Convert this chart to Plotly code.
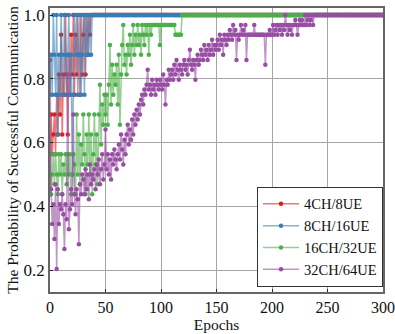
import plotly.graph_objects as go

epochs = list(range(0, 301))

red_vals = [
    0.438, 0.688, 0.563, 0.625, 0.688, 0.563, 0.75, 0.625, 0.813, 0.688,
    0.938, 0.625, 0.813, 0.75, 1.0, 0.813, 0.625, 0.875, 0.75, 0.938,
    0.813, 1.0, 0.75, 0.938, 0.813, 1.0, 0.875, 0.75, 1.0, 0.813,
    0.938, 1.0, 0.813, 1.0, 0.875, 1.0, 0.938, 1.0, 1.0,
] + [1.0] * 262

blue_vals = [
    0.75, 0.875, 0.75, 1.0, 0.875, 0.75, 1.0, 0.625, 0.875, 0.75,
    1.0, 0.875, 0.75, 1.0, 0.875, 0.75, 0.875, 1.0, 0.75, 0.875,
    0.5, 0.75, 1.0, 0.875, 1.0, 0.75, 0.875, 1.0, 0.75, 0.875,
    1.0, 0.75, 1.0, 0.875, 1.0, 0.875, 1.0, 0.875, 1.0,
] + [1.0] * 262

green_vals = [
    0.563, 0.438, 0.5, 0.563, 0.469, 0.563, 0.5, 0.438, 0.563, 0.5,
    0.563, 0.438, 0.531, 0.5, 0.563, 0.469, 0.563, 0.5, 0.563, 0.438,
    0.5, 0.563, 0.531, 0.438, 0.688, 0.5, 0.625, 0.469, 0.594, 0.531,
    0.688, 0.563, 0.438, 0.625, 0.531, 0.688, 0.5, 0.625, 0.438, 0.563,
    0.688, 0.531, 0.625, 0.469, 0.688, 0.781, 0.594, 0.719, 0.656, 0.75,
    0.688, 0.75, 0.656, 0.781, 0.906, 0.719, 0.844, 0.75, 0.813, 0.781,
    0.844, 0.719, 0.875, 0.656, 0.813, 0.906, 0.969, 0.844, 0.875, 0.813,
    0.906, 0.875, 0.938, 0.844, 0.906, 0.969, 0.875, 0.938, 0.906, 0.969,
    0.906, 0.938, 0.875, 0.969, 0.938, 0.906, 0.969, 0.938, 0.969, 0.875,
    0.969, 0.938, 0.969, 0.969, 0.969, 0.969, 0.969, 0.969, 0.969, 0.906,
    0.969, 0.969, 0.969, 0.969, 0.969, 0.969, 0.969, 0.969, 0.969, 0.969,
    0.969, 0.969, 0.969, 0.938, 0.938, 0.938, 0.938, 0.938, 0.938, 1.0,
] + [1.0] * 181

purple_vals = [
    0.859, 0.453, 0.344, 0.406, 0.297, 0.469, 0.203, 0.453, 0.344, 0.406,
    0.391, 0.438, 0.375, 0.266, 0.406, 0.359, 0.813, 0.328, 0.391, 0.453,
    0.406, 0.688, 0.438, 0.375, 0.453, 0.422, 0.281, 0.469, 0.438, 0.500,
    0.484, 0.438, 0.516, 0.453, 0.500, 0.422, 0.531, 0.469, 0.500, 0.484,
    0.516, 0.453, 0.531, 0.500, 0.547, 0.469, 0.516, 0.563, 0.484, 0.531,
    0.641, 0.516, 0.563, 0.500, 0.547, 0.484, 0.563, 0.531, 0.578, 0.547,
    0.516, 0.563, 0.594, 0.547, 0.625, 0.578, 0.531, 0.609, 0.563, 0.625,
    0.656, 0.594, 0.641, 0.609, 0.672, 0.625, 0.688, 0.656, 0.703, 0.672,
    0.719, 0.688, 0.734, 0.750, 0.719, 0.766, 0.750, 0.781, 0.828, 0.766,
    0.781, 0.750, 0.797, 0.766, 0.781, 0.750, 0.797, 0.781, 0.766, 0.797,
    0.781, 0.766, 0.813, 0.781, 0.719, 0.797, 0.781, 0.828, 0.797, 0.813,
    0.828, 0.797, 0.844, 0.813, 0.859, 0.828, 0.797, 0.844, 0.828, 0.813,
    0.844, 0.859, 0.828, 0.844, 0.813, 0.859, 0.891, 0.844, 0.828, 0.859,
    0.844, 0.797, 0.859, 0.875, 0.844, 0.859, 0.891, 0.875, 0.859, 0.906,
    0.875, 0.891, 0.859, 0.906, 0.875, 0.891, 0.922, 0.875, 0.906, 0.891,
    0.906, 0.922, 0.891, 0.938, 0.906, 0.922, 0.875, 0.938, 0.922, 0.906,
    0.938, 0.922, 0.953, 0.938, 0.922, 0.969, 0.938, 0.953, 0.859, 0.938,
    0.922, 0.938, 0.969, 0.938, 0.953, 0.938, 0.969, 0.859, 0.938, 0.938,
    0.938, 0.938, 0.938, 0.938, 0.969, 0.938, 0.938, 0.938, 0.938, 0.938,
    0.938, 0.938, 0.938, 0.938, 0.844, 0.938, 0.938, 0.938, 0.953, 0.938,
    0.938, 0.969, 0.938, 0.953, 0.969, 0.938, 0.969, 0.953, 0.969, 0.938,
    0.969, 0.953, 1.0, 0.969, 0.938, 0.969, 0.953, 0.969, 0.938, 0.969,
    0.969, 0.984, 0.969, 0.938, 0.969, 0.984, 0.969, 0.984, 0.969, 0.969,
    1.0, 0.969, 0.984, 1.0, 0.969, 0.984, 1.0, 0.969, 1.0, 1.0,
] + [1.0] * 61

series_names = ["4CH/8UE", "8CH/16UE", "16CH/32UE", "32CH/64UE"]
series_vals = [red_vals, blue_vals, green_vals, purple_vals]
x_ticks = [0, 50, 100, 150, 200, 250, 300]
y_ticks = [0.2, 0.4, 0.6, 0.8, 1.0]

colors = [(228, 26, 28), (55, 126, 184), (77, 175, 74), (152, 78, 163)]

FONT = "Liberation Serif, Times New Roman, serif"

fig = go.Figure()
for name, vals, (r, g, b) in zip(series_names, series_vals, colors):
    fig.add_trace(go.Scatter(
        x=epochs[:len(vals)], y=vals, name=name, mode="lines+markers",
        line=dict(color=f"rgba({r},{g},{b},0.6)", width=1.5),
        marker=dict(color=f"rgb({r},{g},{b})", size=4.5),
    ))

axis_common = dict(
    showgrid=True, gridcolor="#a6a6a6", gridwidth=1.2,
    showline=True, linecolor="#666666", linewidth=1.5, mirror=True,
    ticks="inside", ticklen=3, tickcolor="#222", zeroline=False,
    automargin=False, ticklabeloverflow="allow",
)

fig.update_layout(
    width=395, height=334,
    margin=dict(l=50, r=12, t=8, b=42),
    paper_bgcolor="white", plot_bgcolor="white",
    font=dict(family=FONT, color="#111"),
    xaxis=dict(range=[0, 300], tickvals=x_ticks,
               tickfont=dict(family=FONT, size=16, color="#111"),
               title=dict(text="Epochs", font=dict(family=FONT, size=15.5), standoff=3),
               **axis_common),
    yaxis=dict(range=[0.131, 1.022], tickvals=y_ticks, tickformat=".1f",
               tickfont=dict(family=FONT, size=17, color="#111"),
               title=dict(text="The Probability of Successful Communication",
                          font=dict(family=FONT, size=15.5), standoff=1),
               **axis_common),
    legend=dict(x=1, xanchor="right", y=0.018, yanchor="bottom",
                bgcolor="white", bordercolor="#333", borderwidth=1,
                font=dict(family=FONT, size=14.5, color="#111"),
                tracegroupgap=0, itemwidth=36),
    showlegend=True,
)

fig.write_html(
    "out.html",
    config={"displayModeBar": False},
    post_script="document.body.style.margin='0';document.body.style.padding='0';",
)
